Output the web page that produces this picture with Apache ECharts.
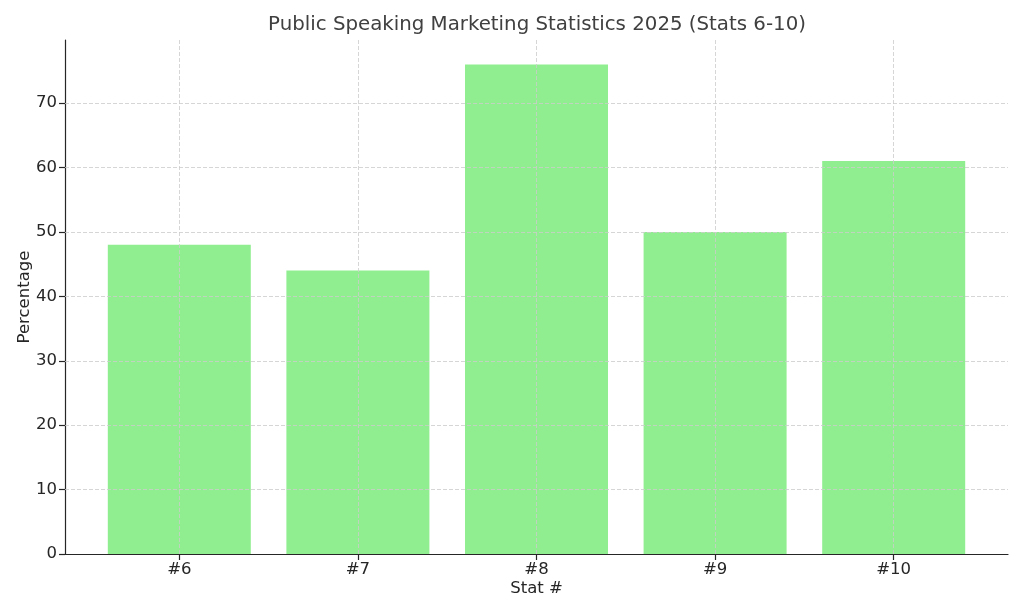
<!DOCTYPE html>
<html>
<head>
<meta charset="utf-8">
<script src="https://cdn.jsdelivr.net/npm/echarts@6/dist/echarts.min.js"></script>
<style>
  html, body { margin: 0; padding: 0; background: #fff; }
  #chart { width: 1024px; height: 614px; }
</style>
</head>
<body>
<div id="chart"></div>
<script>
const categories = ['#6', '#7', '#8', '#9', '#10']
const percentages = [48, 44, 76, 50, 61]
const yTicks = [0, 10, 20, 30, 40, 50, 60, 70]

const font = 'DejaVu Sans'
const gridColor = '#cccccc'
const textColor = '#262626'
const positions = categories.map((c, i) => i)
const dashed = { color: gridColor, type: [4, 2], width: 0.8 }

const chart = echarts.init(document.getElementById('chart'))

const option = {
  animation: false,
  textStyle: { fontFamily: font },
  title: {
    text: 'Public Speaking Marketing Statistics 2025 (Stats 6-10)',
    left: 532,
    textAlign: 'center',
    top: 10,
    textStyle: { fontFamily: font, fontSize: 19.8, fontWeight: 'normal', color: '#404040' }
  },
  grid: { left: 65, right: 16, top: 40, bottom: 60 },
  xAxis: {
    type: 'value',
    min: -0.64,
    max: 4.64,
    z: 3,
    name: 'Stat #',
    nameLocation: 'middle',
    nameGap: 26,
    nameMoveOverlap: false,
    nameTextStyle: { fontFamily: font, fontSize: 16.5, color: textColor },
    axisLine: { show: true, onZero: false, lineStyle: { color: textColor, width: 1.2 } },
    axisTick: { show: true, length: 6, customValues: positions, lineStyle: { color: textColor, width: 1.2 } },
    axisLabel: {
      customValues: positions,
      formatter: v => categories[Math.round(v)],
      fontFamily: font, fontSize: 16.5, color: textColor, margin: 7
    },
    splitLine: { show: false }
  },
  yAxis: {
    type: 'value',
    min: 0,
    max: 79.8,
    interval: 10,
    z: 3,
    name: 'Percentage',
    nameLocation: 'middle',
    nameGap: 32,
    nameMoveOverlap: false,
    nameTextStyle: { fontFamily: font, fontSize: 16.5, color: textColor },
    axisLine: { show: true, onZero: false, lineStyle: { color: textColor, width: 1.2 } },
    axisTick: { show: true, length: 6, customValues: yTicks, lineStyle: { color: textColor, width: 1.2 } },
    axisLabel: {
      customValues: yTicks,
      formatter: v => String(v),
      fontFamily: font, fontSize: 16.5, color: textColor, margin: 8
    },
    splitLine: { show: false }
  },
  series: [{
    type: 'bar',
    data: positions.map((x, i) => [x, percentages[i]]),
    barWidth: 143,
    itemStyle: { color: '#90ee90' },
    markLine: {
      silent: true,
      symbol: 'none',
      label: { show: false },
      z: 4,
      lineStyle: dashed,
      data: positions.map(x => ({ xAxis: x })).concat(yTicks.slice(1).map(y => ({ yAxis: y })))
    }
  }]
}

chart.setOption(option)
</script>
</body>
</html>
